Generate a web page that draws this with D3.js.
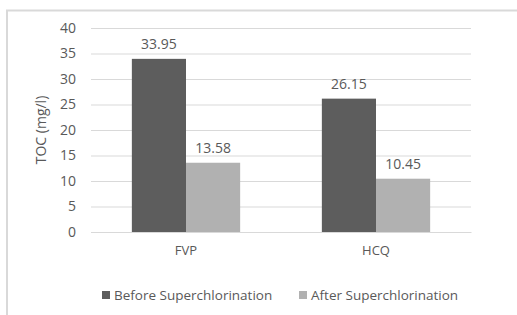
<!DOCTYPE html>
<meta charset="utf-8">
<head>
    <title>TOC chart</title>
</head>
<style>
    body { margin: 0; background: #fff; }
    svg text { font-family: "Open Sans", "Noto Sans", sans-serif; fill: #595959; }
</style>
<div id="graph_div"></div>
<script src="https://d3js.org/d3.v7.min.js"></script>
<script>
    // data
    var categories = ["FVP", "HCQ"];
    var seriesNames = ["Before Superchlorination", "After Superchlorination"];
    var beforeValues = [33.95, 26.15];
    var afterValues = [13.58, 10.45];
    var yTicks = [0, 5, 10, 15, 20, 25, 30, 35, 40];
    var colors = ["#5d5d5d", "#b1b1b1"];

    var W = 517, H = 315;
    var margin = {top: 28, right: 46, bottom: 83, left: 91},
        width = W - margin.left - margin.right,
        height = H - margin.top - margin.bottom;

    var root = d3.select("#graph_div")
      .append("svg")
        .attr("width", W)
        .attr("height", H);

    // chart frame (cropped on the right and bottom)
    root.append("rect")
        .attr("x", 7).attr("y", 10.5)
        .attr("width", W + 10).attr("height", H + 10)
        .attr("fill", "none")
        .attr("stroke", "#d9d9d9")
        .attr("stroke-width", 2);

    var svg = root.append("g")
        .attr("transform", "translate(" + margin.left + "," + margin.top + ")");

    var x = d3.scaleBand()
      .domain(categories)
      .range([0, width]);
    var x1 = d3.scaleBand()
      .domain([0, 1])
      .range([x.bandwidth() * 0.215, x.bandwidth() * 0.785]);
    var y = d3.scaleLinear()
      .domain([0, 40])
      .range([height, 0]);

    // gridlines + y labels
    var yAxis = svg.append("g")
      .call(d3.axisLeft(y).tickValues(yTicks).tickSize(-width).tickPadding(15));
    yAxis.select(".domain").remove();
    yAxis.selectAll("line").attr("stroke", "#d9d9d9").attr("stroke-width", 1);
    yAxis.selectAll("text").attr("font-size", "14px").style("fill", "#595959");

    svg.append("text")
        .attr("text-anchor", "middle")
        .attr("transform", "translate(" + (-50) + "," + (height / 2) + ") rotate(-90)")
        .attr("dy", "0.35em")
        .attr("font-size", "14px")
        .text("TOC (mg/l)");

    var rows = categories.map(function(c, i) {
      return {cat: c, vals: [beforeValues[i], afterValues[i]]};
    });

    var groups = svg.selectAll(".grp")
      .data(rows)
      .enter().append("g")
        .attr("transform", function(d) { return "translate(" + x(d.cat) + ",0)"; });

    groups.selectAll("rect")
      .data(function(d) { return d.vals; })
      .enter().append("rect")
        .attr("x", function(d, i) { return x1(i); })
        .attr("y", function(d) { return y(d); })
        .attr("width", x1.bandwidth())
        .attr("height", function(d) { return height - y(d); })
        .attr("fill", function(d, i) { return colors[i]; });

    groups.selectAll(".lbl")
      .data(function(d) { return d.vals; })
      .enter().append("text")
        .attr("text-anchor", "middle")
        .attr("x", function(d, i) { return x1(i) + x1.bandwidth() / 2; })
        .attr("y", function(d) { return y(d) - 10; })
        .attr("font-size", "14px")
        .text(function(d) { return d3.format(".2f")(d); });

    // x labels
    var xAxis = svg.append("g")
      .attr("transform", "translate(0," + height + ")")
      .call(d3.axisBottom(x).tickSize(0).tickPadding(14));
    xAxis.select(".domain").attr("stroke", "#d9d9d9");
    xAxis.selectAll("text").attr("font-size", "13px").style("fill", "#595959");

    // legend
    var legendX = [102, 299];
    var legend = root.selectAll(".leg")
      .data(seriesNames)
      .enter().append("g")
        .attr("transform", function(d, i) { return "translate(" + legendX[i] + ",295)"; });
    legend.append("rect")
        .attr("x", 0).attr("y", -4)
        .attr("width", 8).attr("height", 8)
        .attr("fill", function(d, i) { return colors[i]; });
    legend.append("text")
        .attr("x", 12)
        .attr("dy", "0.35em")
        .attr("font-size", "13.5px")
        .text(function(d) { return d; });
</script>
